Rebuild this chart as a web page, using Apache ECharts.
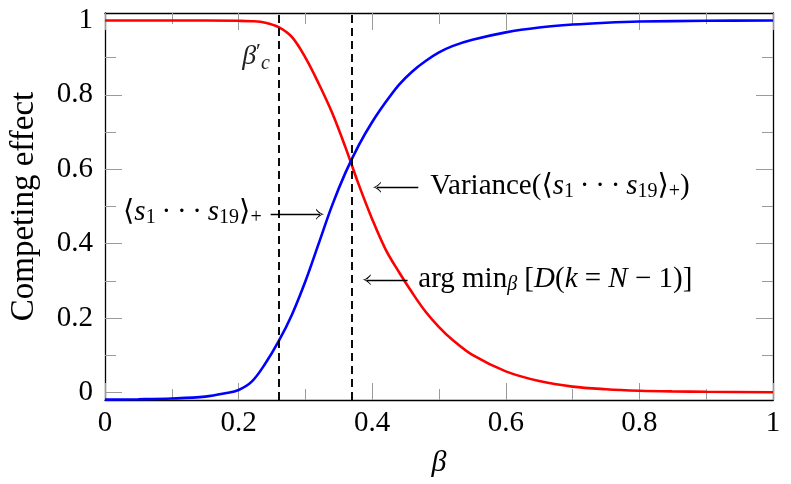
<!DOCTYPE html>
<html><head><meta charset="utf-8">
<script src="https://cdn.jsdelivr.net/npm/echarts@6/dist/echarts.min.js"></script>
<style>html,body{margin:0;padding:0;background:#fff}#c{width:791px;height:484px}</style>
</head><body><div id="c"></div>
<script>
// ---- data ----
const betaRed = [0,0.1,0.2,0.22,0.24,0.26,0.28,0.30,0.32,0.34,0.36,0.38,0.40,0.42,0.44,0.46,0.48,0.50,0.52,0.55,0.60,0.65,0.70,0.75,0.80,0.85,0.90,1.0];
const redVals = [1.0,1.0,0.999,0.998,0.994,0.982,0.955,0.90,0.83,0.752,0.659,0.558,0.466,0.385,0.324,0.268,0.217,0.176,0.142,0.101,0.057,0.031,0.016,0.009,0.005,0.003,0.002,0.001];
const betaBlue = [0,0.05,0.1,0.15,0.18,0.2,0.22,0.24,0.26,0.28,0.30,0.32,0.34,0.36,0.38,0.40,0.42,0.44,0.46,0.48,0.50,0.52,0.55,0.60,0.65,0.70,0.75,0.8,0.9,1.0];
const blueVals = [-0.019,-0.018,-0.016,-0.011,-0.002,0.007,0.03,0.078,0.138,0.210,0.299,0.401,0.503,0.591,0.665,0.727,0.780,0.827,0.863,0.891,0.914,0.931,0.948,0.968,0.981,0.989,0.994,0.997,0.999,1.0];
const vLines = [0.259, 0.368];
const yMajor = [0, 0.2, 0.4, 0.6, 0.8, 1];
const yMinor = [0.1, 0.3, 0.5, 0.7, 0.9];
const xLabel = 'β';
const yLabel = 'Competing effect';

// ---- annotation anchors (data coordinates) ----
const arrows = [
  [[0.469, 0.552], [0.407, 0.552]],
  [[0.453, 0.303], [0.3917, 0.303]],
  [[0.248, 0.479], [0.322, 0.479]]
];
const dots = '\u2009·\u2009·\u2009·\u2009';
const notes = [
  {at: [0.487, 0.553], text: '{n|Variance(⟨}{i|s}{sb|1}{n|' + dots + '}{i|s}{sb|19}{n|⟩}{sb|+}{n|)}'},
  {at: [0.469, 0.303], text: '{n|arg min}{si|β}{n| [}{i|D}{n|(}{i|k}{n| = }{i|N}{n| − 1)]}'},
  {at: [0.027, 0.483], text: '{n|⟨}{i|s}{sb|1}{n|' + dots + '}{i|s}{sb|19}{n|⟩}{sb|+}'}
];
const betaC = [0.226, 0.902];

const serif = "'Liberation Serif','DejaVu Serif',serif";
const gray = '#9b9b9b';
const F = 29;
const rich = {
  n: {fontFamily: serif, fontSize: F, color: '#000', lineHeight: 40},
  i: {fontFamily: serif, fontSize: F, color: '#000', fontStyle: 'italic', lineHeight: 40},
  sb: {fontFamily: serif, fontSize: 20, color: '#000', lineHeight: 40, padding: [10, 0, 0, 0]},
  si: {fontFamily: serif, fontSize: 20, color: '#000', fontStyle: 'italic', lineHeight: 40, padding: [10, 0, 0, 0]},
  b: {fontFamily: serif, fontSize: 28, color: '#222', fontStyle: 'italic', lineHeight: 40},
  p: {fontFamily: serif, fontSize: 22, color: '#222', lineHeight: 40, padding: [0, 0, 10, 0]},
  c: {fontFamily: serif, fontSize: 20, color: '#222', fontStyle: 'italic', lineHeight: 40, padding: [14, 0, 0, 0]}
};
const arrowHead = 'path://M5,0 Q4.4,5 0,10 L1.2,10 Q4.6,6.5 5,3 Q5.4,6.5 8.8,10 L10,10 Q5.6,5 5,0 Z';

function xAx(pos, label) {
  return {
    type: 'value', min: 0, max: 1, interval: 0.2, position: pos,
    axisLine: {show: true, onZero: false, lineStyle: {color: '#000', width: 1.3}},
    axisTick: {show: true, inside: true, length: 17, lineStyle: {color: gray, width: 1}},
    minorTick: {show: true, splitNumber: 2, length: 11, lineStyle: {color: gray, width: 1}},
    splitLine: {show: false}, minorSplitLine: {show: false},
    axisLabel: {show: label, color: '#000', fontFamily: serif, fontSize: 29, margin: 9},
    name: label ? xLabel : '', nameLocation: 'middle', nameGap: 48,
    nameTextStyle: {fontFamily: serif, fontSize: 30, fontStyle: 'italic', color: '#000'}
  };
}
function yAx(pos, vals, len, line, label) {
  return {
    type: 'value', min: -0.02, max: 1.02, position: pos,
    axisLine: {show: line, onZero: false, lineStyle: {color: '#000', width: 1.3}},
    axisTick: {show: true, inside: true, length: len, customValues: vals, lineStyle: {color: gray, width: 1}},
    splitLine: {show: false},
    axisLabel: {show: label, customValues: yMajor, color: '#000', fontFamily: serif, fontSize: 29, margin: 12},
    name: label ? yLabel : '', nameLocation: 'middle', nameGap: 64,
    nameTextStyle: {fontFamily: serif, fontSize: 33, color: '#000'}
  };
}

const chart = echarts.init(document.getElementById('c'));
chart.setOption({
  animation: false,
  backgroundColor: '#fff',
  grid: {left: 104, right: 18, top: 13, bottom: 84},
  xAxis: [xAx('bottom', true), xAx('top', false)],
  yAxis: [
    yAx('left', yMajor, 17, true, true),
    yAx('left', yMinor, 11, false, false),
    yAx('right', yMajor, 17, true, false),
    yAx('right', yMinor, 11, false, false)
  ],
  series: [
    {
      type: 'line', data: [], z: 1, silent: true,
      markLine: {
        silent: true, symbol: ['none', 'none'], label: {show: false},
        lineStyle: {color: '#000', type: [8, 5], width: 1.9},
        data: vLines.map(v => ({xAxis: v}))
      }
    },
    {
      type: 'line', z: 3, showSymbol: false, smooth: 0.35,
      lineStyle: {color: '#ff0000', width: 2.6}, itemStyle: {color: '#ff0000'},
      data: betaRed.map((b, i) => [b, redVals[i]])
    },
    {
      type: 'line', z: 3, showSymbol: false, smooth: 0.35,
      lineStyle: {color: '#0000ff', width: 2.6}, itemStyle: {color: '#0000ff'},
      data: betaBlue.map((b, i) => [b, blueVals[i]])
    },
    {
      type: 'line', data: [], z: 5, silent: true,
      markLine: {
        silent: true, symbol: ['none', arrowHead], symbolSize: [11, 8],
        label: {show: false},
        lineStyle: {color: '#000', type: 'solid', width: 1.3},
        itemStyle: {color: '#000'},
        data: arrows.map(a => [{coord: a[0]}, {coord: a[1]}])
      },
      markPoint: {
        silent: true, symbol: 'circle', symbolSize: 0,
        data: notes.map(n => ({
          coord: n.at,
          label: {show: true, position: 'right', distance: 0, formatter: n.text, rich: rich}
        })).concat([{
          coord: betaC,
          label: {show: true, position: 'inside', formatter: '{b|β}{p|′}{c|c}', rich: rich}
        }])
      }
    }
  ]
});
</script></body></html>
